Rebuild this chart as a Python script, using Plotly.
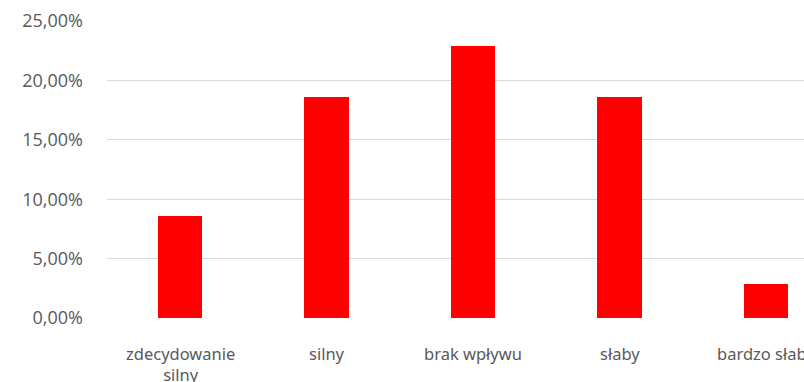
import plotly.graph_objects as go

categories = ["zdecydowanie<br>silny", "silny", "brak wpływu", "słaby", "bardzo słaby"]
shares = [0.0857, 0.1857, 0.2286, 0.1857, 0.0286]
y_ticks = [0, 0.05, 0.10, 0.15, 0.20, 0.25]
y_tick_labels = ["0,00%", "5,00%", "10,00%", "15,00%", "20,00%", "25,00%"]

W, H = 804, 382
left, top, bottom = 107, 21, 64
cat_px = 146.45
# the category axis continues past the right edge of the canvas
x_hi = -0.5 + (W - left) / cat_px

fig = go.Figure(
    go.Bar(
        x=list(range(len(categories))),
        y=shares,
        width=0.303,
        marker=dict(color="#FF0000", line=dict(width=0)),
        hoverinfo="skip",
    )
)

grey = "#595959"
y_font = dict(family="'Open Sans', 'Noto Sans', sans-serif", size=18, color=grey)
x_font = dict(family="'Noto Sans', 'Open Sans', sans-serif", size=16.5, color=grey)

# category labels as annotations so the last one can run off the edge
annotations = [
    dict(
        x=i, y=0, xref="x", yref="y",
        text=label, showarrow=False,
        xanchor="center", yanchor="top",
        yshift=-22, font=x_font, align="center",
    )
    for i, label in enumerate(categories)
]

fig.update_layout(
    width=W,
    height=H,
    margin=dict(l=left, r=0, t=top, b=bottom, autoexpand=False),
    paper_bgcolor="white",
    plot_bgcolor="white",
    showlegend=False,
    bargap=0,
    annotations=annotations,
)
fig.update_xaxes(
    range=[-0.5, x_hi],
    showticklabels=False,
    showgrid=False,
    showline=False,
    zeroline=False,
    ticks="",
)
fig.update_yaxes(
    range=[0, 0.25],
    tickmode="array",
    tickvals=y_ticks,
    ticktext=y_tick_labels,
    showgrid=True,
    gridcolor="#D9D9D9",
    gridwidth=1.3,
    zeroline=False,
    showline=False,
    ticks="",
    ticklabelstandoff=23,
    automargin=False,
    tickfont=y_font,
)

fig.write_html("out.html")
